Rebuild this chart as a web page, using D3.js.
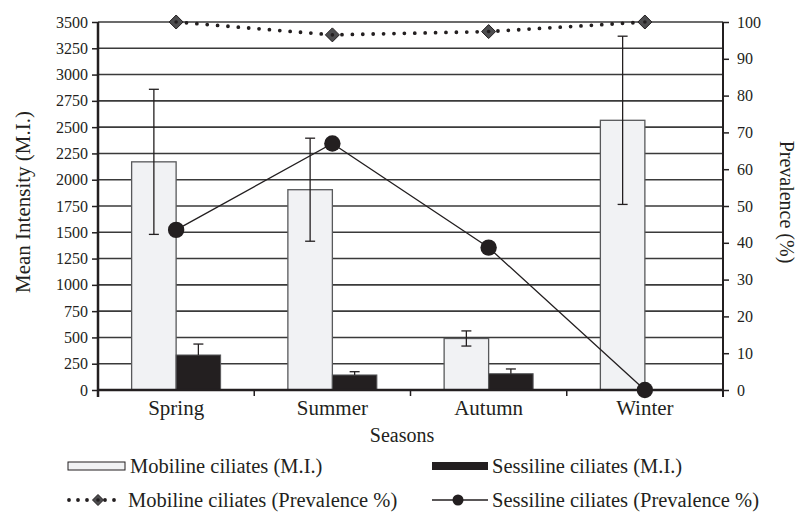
<!DOCTYPE html>
<html><head><meta charset="utf-8">
<script src="https://cdn.jsdelivr.net/npm/d3@7"></script>
<style>body{margin:0;background:#fff}svg{display:block}text{font-family:"Liberation Serif",serif;fill:#231f20}</style>
</head><body><svg id="c" width="799" height="512"></svg>
<script>
const seasons = ["Spring","Summer","Autumn","Winter"];
const mobileMI = [2170, 1905, 490, 2565];
const mobileErr = [690, 490, 72, 800];
const sessileMI = [333, 143, 155, 0];
const sessileErr = [104, 31, 45, 0];
const mobilePrev = [100, 96.5, 97.4, 100];
const sessilePrev = [43.5, 67, 38.7, 0];
const leftTicks = d3.range(0, 3501, 250);
const rightTicks = d3.range(0, 101, 10);

const svg = d3.select("#c");
const L = 98, R = 723, T = 22, B = 390;
const x = d3.scaleBand().domain(seasons).range([L, R]).padding(0);
const yL = d3.scaleLinear().domain([0, 3500]).range([B, T]);
const yR = d3.scaleLinear().domain([0, 100]).range([B, T]);
const bw = 44.5;
const cx = s => x(s) + x.bandwidth() / 2;
const ink = "#231f20";

svg.append("g").selectAll("line").data(leftTicks.filter(d => d > 0)).join("line")
  .attr("x1", L).attr("x2", R).attr("y1", d => yL(d)).attr("y2", d => yL(d))
  .attr("stroke", "#3a3a3a").attr("stroke-width", 1.6);

const data = seasons.map((s, i) => ({s, m: mobileMI[i], me: mobileErr[i], ss: sessileMI[i], se: sessileErr[i], mp: mobilePrev[i], sp: sessilePrev[i]}));

svg.append("g").selectAll("rect").data(data).join("rect")
  .attr("x", d => cx(d.s) - bw).attr("width", bw)
  .attr("y", d => yL(d.m)).attr("height", d => yL(0) - yL(d.m))
  .attr("fill", "#f1f2f4").attr("stroke", "#58595b").attr("stroke-width", 1.3);
svg.append("g").selectAll("rect").data(data.filter(d => d.ss > 0)).join("rect")
  .attr("x", d => cx(d.s)).attr("width", bw)
  .attr("y", d => yL(d.ss)).attr("height", d => yL(0) - yL(d.ss))
  .attr("fill", ink).attr("stroke", "#58595b").attr("stroke-width", 1);

const eb = svg.append("g").attr("stroke", ink).attr("stroke-width", 1.3);
data.forEach(d => {
  const xm = cx(d.s) - bw / 2;
  eb.append("line").attr("x1", xm).attr("x2", xm).attr("y1", yL(d.m + d.me)).attr("y2", yL(d.m - d.me));
  [d.m + d.me, d.m - d.me].forEach(v => eb.append("line").attr("x1", xm - 5).attr("x2", xm + 5).attr("y1", yL(v)).attr("y2", yL(v)));
  if (d.se > 0) {
    const xs = cx(d.s) + bw / 2;
    eb.append("line").attr("x1", xs).attr("x2", xs).attr("y1", yL(d.ss + d.se)).attr("y2", yL(d.ss));
    eb.append("line").attr("x1", xs - 5).attr("x2", xs + 5).attr("y1", yL(d.ss + d.se)).attr("y2", yL(d.ss + d.se));
  }
});

const axL = svg.append("g").attr("transform", `translate(${L},0)`)
  .call(d3.axisLeft(yL).tickValues(leftTicks).tickFormat(d3.format("d")).tickSize(6).tickPadding(4));
const axR = svg.append("g").attr("transform", `translate(${R},0)`)
  .call(d3.axisRight(yR).tickValues(rightTicks).tickFormat(d3.format("d")).tickSize(6).tickPadding(8));
const axB = svg.append("g").attr("transform", `translate(0,${B})`)
  .call(d3.axisBottom(x).tickSize(0).tickPadding(10));
[axL, axR].forEach(a => a.selectAll("text").attr("font-size", 16).attr("font-family", "DejaVu Serif"));
axB.selectAll("text").attr("font-size", 21).attr("font-family", "Liberation Serif");
[axL, axR, axB].forEach(a => { a.selectAll("text").attr("fill", ink); a.selectAll("line").attr("stroke", ink).attr("stroke-width", 1.5); a.select(".domain").remove(); });
svg.append("g").selectAll("line").data(seasons.slice(1)).join("line")
  .attr("x1", d => x(d)).attr("x2", d => x(d)).attr("y1", B).attr("y2", B + 6)
  .attr("stroke", ink).attr("stroke-width", 1.5);
svg.append("line").attr("x1", L).attr("x2", L).attr("y1", T).attr("y2", B + 7).attr("stroke", ink).attr("stroke-width", 2.5);
svg.append("line").attr("x1", R).attr("x2", R).attr("y1", T).attr("y2", B + 7).attr("stroke", ink).attr("stroke-width", 2);
svg.append("line").attr("x1", L).attr("x2", R).attr("y1", B).attr("y2", B).attr("stroke", ink).attr("stroke-width", 2.5);

svg.append("path").datum(data)
  .attr("d", d3.line().x(d => cx(d.s)).y(d => yR(d.sp)))
  .attr("fill", "none").attr("stroke", ink).attr("stroke-width", 1.3);
svg.append("g").selectAll("circle").data(data).join("circle")
  .attr("cx", d => cx(d.s)).attr("cy", d => yR(d.sp)).attr("r", 8.2).attr("fill", ink);

svg.append("path").datum(data)
  .attr("d", d3.line().x(d => cx(d.s)).y(d => yR(d.mp)))
  .attr("fill", "none").attr("stroke", ink).attr("stroke-width", 3.8)
  .attr("stroke-linecap", "round").attr("stroke-dasharray", "0 10.4");
const dia = (g, px, py, h) => {
  g.append("path").attr("d", `M${px},${py - h}L${px + h},${py}L${px},${py + h}L${px - h},${py}Z`)
    .attr("fill", "#4d4d4f").attr("stroke", ink).attr("stroke-width", 1);
  g.append("circle").attr("cx", px).attr("cy", py).attr("r", 1.8).attr("fill", ink);
};
const dg = svg.append("g");
data.forEach(d => dia(dg, cx(d.s), yR(d.mp), 7));

svg.append("text").attr("x", 402).attr("y", 442).attr("text-anchor", "middle").attr("font-size", 20).text("Seasons");
svg.append("text").attr("transform", "translate(30,202) rotate(-90)").attr("text-anchor", "middle").attr("font-size", 21).text("Mean Intensity  (M.I.)");
svg.append("text").attr("transform", "translate(780,202) rotate(90)").attr("text-anchor", "middle").attr("font-size", 20).text("Prevalence (%)");

const lg = svg.append("g");
const r1 = 466, r2 = 500;
lg.append("rect").attr("x", 68).attr("y", r1 - 4).attr("width", 57).attr("height", 8).attr("fill", "#f1f2f4").attr("stroke", ink).attr("stroke-width", 1);
lg.append("text").attr("x", 130).attr("y", r1 + 7).attr("font-size", 20.5).text("Mobiline ciliates (M.I.)");
lg.append("rect").attr("x", 432).attr("y", r1 - 4).attr("width", 56).attr("height", 8).attr("fill", ink);
lg.append("text").attr("x", 492).attr("y", r1 + 7).attr("font-size", 20.5).text("Sessiline ciliates (M.I.)");
lg.append("path").attr("d", `M69,${r2}L123,${r2}`).attr("stroke", ink).attr("stroke-width", 3.8).attr("stroke-linecap", "round").attr("stroke-dasharray", "0 9");
dia(lg, 98, r2, 5.5);
lg.append("text").attr("x", 128).attr("y", r2 + 7).attr("font-size", 20.5).text("Mobiline ciliates  (Prevalence %)");
lg.append("line").attr("x1", 432).attr("x2", 488).attr("y1", r2).attr("y2", r2).attr("stroke", ink).attr("stroke-width", 1.3);
lg.append("circle").attr("cx", 458).attr("cy", r2).attr("r", 5.5).attr("fill", ink);
lg.append("text").attr("x", 492).attr("y", r2 + 7).attr("font-size", 20.5).text("Sessiline ciliates (Prevalence %)");
</script></body></html>
